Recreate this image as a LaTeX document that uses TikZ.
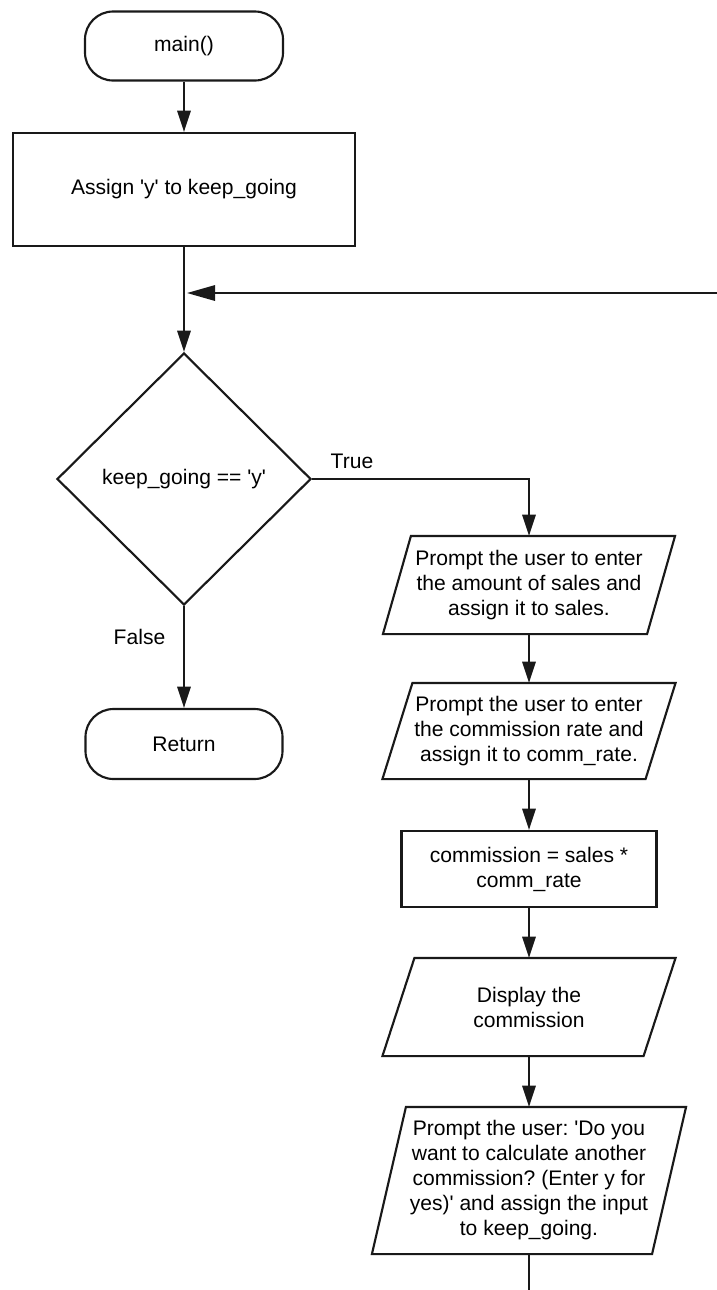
\documentclass[tikz,border=0pt]{standalone}
\usepackage{fontspec}
\setmainfont{Liberation Sans}[Ligatures=TeXOff]
\usetikzlibrary{arrows.meta,shapes.geometric,calc}
\frenchspacing
\tikzset{
  base/.style={font=\fontsize{15.8}{18.75}\selectfont, align=center, inner sep=0pt, line width=1.6pt, draw=black!90},
  terminal/.style={base, rectangle, rounded corners=21pt},
  procbox/.style={base, rectangle},
  decision/.style={base, diamond},
  iobody/.style={base, rectangle, draw=none},
  ioline/.style={line width=1.6pt, draw=black!90, line join=miter},
  conn/.style={line width=1.6pt, draw=black!90},
  arr/.style={conn, -{Triangle[length=16pt,width=10pt]}},
  bigarr/.style={conn, -{Triangle[length=21pt,width=11.5pt]}},
  lbl/.style={font=\fontsize{15.8}{18.75}\selectfont, inner sep=0pt}
}
\begin{document}
\begin{tikzpicture}[x=0.75pt,y=-0.75pt]
\useasboundingbox (0,0) rectangle (717,1290);

% left column
\node[terminal, minimum width=148.5pt, minimum height=51.75pt] (main) at (184,46) {main()};
\node[procbox, minimum width=256.5pt, minimum height=84.75pt] (assign) at (184,189.5) {Assign 'y' to keep\_going};
\node[decision, minimum width=190.5pt, minimum height=189pt] (dec) at (184,479) {keep\_going == 'y'};
\node[terminal, minimum width=147.75pt, minimum height=52.5pt] (ret) at (184,744) {Return};

% right column (parallelogram bodies)
\node[iobody, minimum width=196.5pt, minimum height=72pt] (p1) at (529,585) {Prompt the user to enter\\the amount of sales and\\assign it to sales.};
\node[iobody, minimum width=195.75pt, minimum height=70.5pt] (p2) at (529,731) {Prompt the user to enter\\the commission rate and\\assign it to comm\_rate.};
\node[procbox, minimum width=191.25pt, minimum height=57pt] (calc) at (529,869) {commission = sales *\\comm\_rate};
\node[iobody, minimum width=194.25pt, minimum height=72pt] (p3) at (529,1007) {Display the\\commission};
\node[iobody, minimum width=208.5pt, minimum height=108.75pt] (p4) at (529,1180.5) {Prompt the user: 'Do you\\want to calculate another\\commission? (Enter y for\\yes)' and assign the input\\to keep\_going.};

% parallelogram outlines
\foreach \n/\s in {p1/14, p2/15, p3/16, p4/17}{
  \draw[ioline] ($(\n.north west)+(\s,0)$) -- ($(\n.north east)+(\s,0)$)
    -- ($(\n.south east)+(-\s,0)$) -- ($(\n.south west)+(-\s,0)$) -- cycle;
}

% labels
\node[lbl] (truelbl) at (352,461) {True};
\node[lbl] (falselbl) at (139.5,637) {False};

% loop ends (cut by the frame)
\coordinate (loopin) at (717,293);
\coordinate (loopout) at (529,1290);

% connectors
\draw[arr] (main) -- (assign);
\draw[arr] (assign) -- (dec);
\draw[bigarr] (loopin) -- ($(loopin -| assign.south)+(3,0)$);
\draw[arr] (dec.east) -| (p1.north);
\draw[arr] (dec) -- (ret);
\draw[arr] (p1) -- (p2);
\draw[arr] (p2) -- (calc);
\draw[arr] (calc) -- (p3);
\draw[arr] (p3) -- (p4);
\draw[conn] (p4.south) -- (loopout);
\end{tikzpicture}
\end{document}
